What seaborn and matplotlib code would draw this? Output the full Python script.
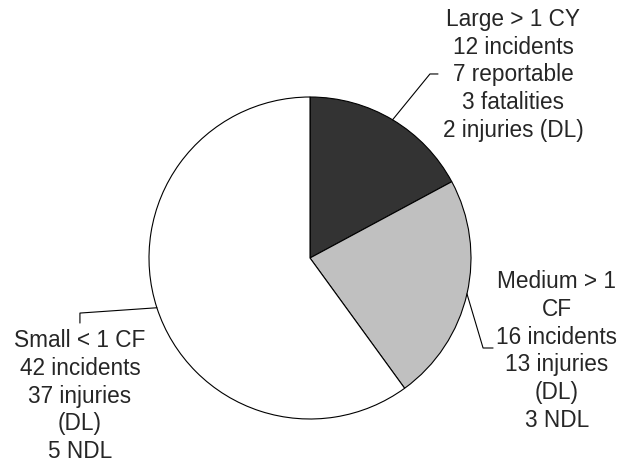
import numpy as np
import matplotlib
matplotlib.use("Agg")
import matplotlib.pyplot as plt
import seaborn as sns

# data
categories = ["Large > 1 CY", "Medium > 1 CF", "Small < 1 CF"]
incidents = [12, 16, 42]
label_texts = [
    "Large > 1 CY\n12 incidents\n7 reportable\n3 fatalities\n2 injuries (DL)",
    "Medium > 1\nCF\n16 incidents\n13 injuries\n(DL)\n3 NDL",
    "Small < 1 CF\n42 incidents\n37 injuries\n(DL)\n5 NDL",
]
slice_colors = ["#333333", "#c0c0c0", "#ffffff"]

sns.set_style("white")
plt.rcParams["font.family"] = ["Liberation Sans", "DejaVu Sans"]

fig = plt.figure(figsize=(6.36, 4.62), dpi=100)
ax = fig.add_axes([0, 0, 1, 1])

wedges, _ = ax.pie(incidents, colors=slice_colors, startangle=90, counterclock=False,
                   wedgeprops=dict(edgecolor="black", linewidth=0.8))

# label placement (in pie-radius units) and leader line bends
text_pos = [(1.261, 1.137), (1.534, -0.578), (-1.429, -0.858)]
leader_pts = [
    [(0.745, 1.143), (0.795, 1.143)],
    [(1.075, -0.559), (1.137, -0.559)],
    [(-1.429, -0.342), (-1.429, -0.404)],
]

for w, txt, pos, pts in zip(wedges, label_texts, text_pos, leader_pts):
    mid = np.deg2rad((w.theta1 + w.theta2) / 2)
    xs = [np.cos(mid)] + [p[0] for p in pts]
    ys = [np.sin(mid)] + [p[1] for p in pts]
    ax.plot(xs, ys, color="black", lw=0.8)
    ax.text(pos[0], pos[1], txt, ha="center", va="center", fontsize=16.3,
            multialignment="center", linespacing=1.26)

ax.set_xlim(-310 / 161, 326 / 161)
ax.set_ylim(-204 / 161, 258 / 161)
ax.set_aspect("equal")
ax.axis("off")

fig.savefig("out.png", dpi=100, facecolor="white")
